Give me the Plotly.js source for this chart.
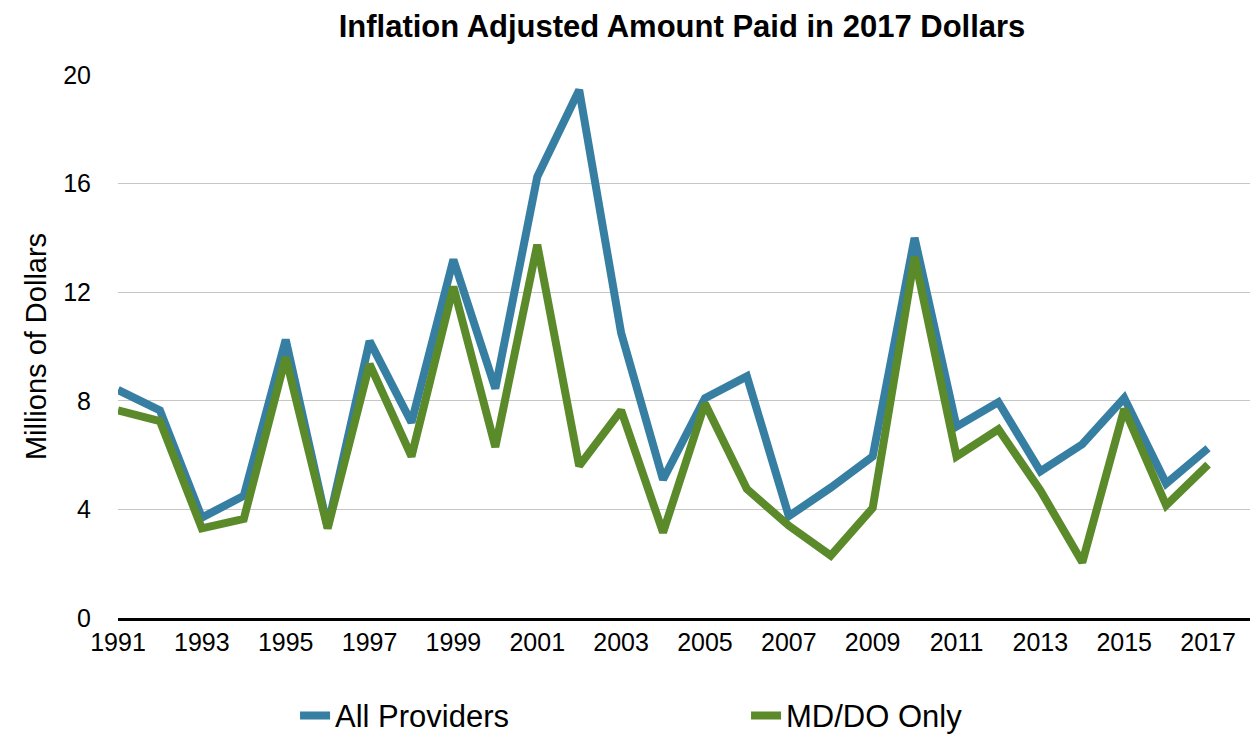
<!DOCTYPE html>
<html>
<head>
<meta charset="utf-8">
<script src="https://cdn.plot.ly/plotly-3.0.1.min.js"></script>
<style>
  html, body { margin: 0; padding: 0; background: #fff; }
  #chart { width: 1250px; height: 738px; }
</style>
</head>
<body>
<div id="chart"></div>
<script>
var years = [1991, 1992, 1993, 1994, 1995, 1996, 1997, 1998, 1999, 2000,
             2001, 2002, 2003, 2004, 2005, 2006, 2007, 2008, 2009, 2010,
             2011, 2012, 2013, 2014, 2015, 2016, 2017];

// millions of 2017 dollars
var all_providers = [8.4, 7.65, 3.7, 4.5, 10.25, 3.35, 10.2, 7.2, 13.2, 8.45,
                     16.25, 19.45, 10.5, 5.1, 8.1, 8.9, 3.75, 4.8, 5.95, 14.0,
                     7.05, 7.95, 5.4, 6.4, 8.1, 4.95, 6.25];
var md_do_only = [7.65, 7.25, 3.3, 3.65, 9.6, 3.3, 9.35, 5.95, 12.2, 6.3,
                  13.75, 5.6, 7.65, 3.15, 7.9, 4.75, 3.4, 2.3, 4.05, 13.3,
                  5.95, 6.95, 4.7, 2.05, 7.7, 4.15, 5.65];

var linewidth = 8;
var font = "Liberation Sans, Arial, Helvetica, sans-serif";

var trace_all = {
	mode: "lines",
	x: years,
	y: all_providers,
	name: "All Providers",
	line: { color: "#377fa2", width: linewidth }
};

var trace_md = {
	mode: "lines",
	x: years,
	y: md_do_only,
	name: "MD/DO Only",
	line: { color: "#5b8a2a", width: linewidth }
};

var layout = {
	width: 1250,
	height: 738,
	paper_bgcolor: "#fff",
	plot_bgcolor: "#fff",
	font: { family: font, color: "#000", size: 25 },
	title: {
		text: "<b>Inflation Adjusted Amount Paid in 2017 Dollars</b>",
		font: { family: font, size: 31, color: "#000" },
		x: 0.5456,
		xanchor: "center",
		y: 0.965,
		yanchor: "middle"
	},
	margin: { l: 118, r: 0, t: 75, b: 120, autoexpand: false },
	xaxis: {
		range: [1991, 2018],
		tickmode: "linear",
		tick0: 1991,
		dtick: 2,
		showgrid: false,
		zeroline: false,
		showline: true,
		linecolor: "#000",
		linewidth: 3,
		ticks: "",
		tickfont: { size: 25 }
	},
	yaxis: {
		range: [0, 20],
		tickmode: "linear",
		tick0: 0,
		dtick: 4,
		showgrid: true,
		gridcolor: "#c6c6c6",
		gridwidth: 1,
		zeroline: false,
		showline: false,
		ticks: "",
		ticklabelstandoff: 26,
		tickfont: { size: 25 },
		title: {
			text: "Millions of Dollars",
			font: { size: 29 },
			standoff: 8
		}
	},
	showlegend: true,
	legend: {
		orientation: "h",
		x: 0.1564,
		xanchor: "left",
		y: -0.18,
		yanchor: "middle",
		entrywidth: 406,
		entrywidthmode: "pixels",
		font: { size: 31 },
		bgcolor: "rgba(0,0,0,0)"
	}
};

Plotly.newPlot("chart", [trace_all, trace_md], layout, {
	displayModeBar: false,
	staticPlot: true
});
</script>
</body>
</html>
